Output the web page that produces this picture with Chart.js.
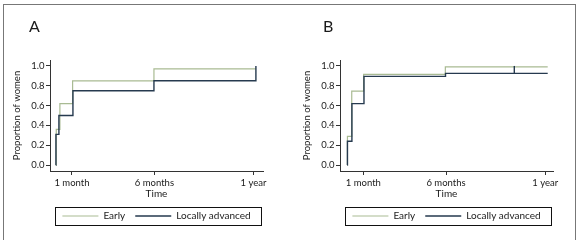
<!DOCTYPE html>
<html><head><meta charset="utf-8">
<script src="https://cdn.jsdelivr.net/npm/chart.js@4.4.1/dist/chart.umd.min.js"></script>
<style>
html,body{margin:0;padding:0;background:#fff;}
#wrap{position:relative;width:580px;height:240px;overflow:hidden;background:#fff;}
#frame{position:absolute;left:3px;top:4px;width:573px;height:260px;border:1.5px solid #777;box-sizing:border-box;}
canvas{position:absolute;top:0;}
.lbl{position:absolute;font-family:Lato,"Liberation Sans",sans-serif;font-size:16px;color:#1a1a1a;line-height:1;}
</style></head>
<body><div id="wrap"><div id="frame"></div>
<canvas id="cA" width="290" height="240" style="left:0"></canvas>
<canvas id="cB" width="290" height="240" style="left:290px"></canvas>
<div class="lbl" style="left:29px;top:18px">A</div>
<div class="lbl" style="left:323px;top:18px">B</div>
</div>
<script>
// ---- data (time in months, proportion of women) ----
const seriesNames = ['Early', 'Locally advanced'];
const xTickValues = [1, 6, 12];
const xTickLabels = ['1 month', '6 months', '1 year'];
const yTickValues = [0, 0.2, 0.4, 0.6, 0.8, 1.0];
const yTickLabels = ['0.0', '0.2', '0.4', '0.6', '0.8', '1.0'];

const aEarlyT = [0.02, 0.05, 0.27, 1.04, 5.97, 12.15];
const aEarlyY = [0, 0.36, 0.62, 0.85, 0.97, 0.97];
const aLocalT = [0.02, 0.03, 0.21, 1.06, 5.97, 12.15, 12.15];
const aLocalY = [0, 0.31, 0.50, 0.75, 0.85, 0.85, 1.0];

const bEarlyT = [0.03, 0.04, 0.30, 1.02, 5.96, 12.15];
const bEarlyY = [0, 0.29, 0.745, 0.915, 0.99, 0.99];
const bLocalT = [0.03, 0.04, 0.31, 1.04, 5.97, 12.15];
const bLocalY = [0, 0.24, 0.62, 0.895, 0.925, 0.925];
const bCensorT = [10.13, 10.13];
const bCensorY = [0.92, 1.0];

const GREEN = '#a9bb93';
const NAVY = '#263a4f';
const AXIS = '#333333';
const TEXT = '#1a1a1a';

Chart.defaults.font.family = 'Lato, "Liberation Sans", sans-serif';
Chart.defaults.color = TEXT;

const pts = (ts, ys) => ts.map((t, i) => ({x: t, y: ys[i]}));

const LEG_PAD = 10, LEG_FONT = 10;
const legendFrame = {
  id: 'legendFrame',
  afterDraw(chart) {
    const lg = chart.legend, ca = chart.chartArea, ctx = chart.ctx;
    const cy = lg.top + LEG_PAD + LEG_FONT / 2;
    ctx.save();
    ctx.strokeStyle = '#111';
    ctx.lineWidth = 1;
    ctx.strokeRect(Math.round(ca.left + 5) + 0.5, Math.round(cy - 9) + 0.5, Math.round(ca.right - ca.left - 7), 18);
    ctx.restore();
  }
};

function makeChart(id, earlyT, earlyY, localT, localY, extra, xmin, xmax) {
  const datasets = [
    {label: seriesNames[0], data: pts(earlyT, earlyY), borderColor: GREEN, backgroundColor: GREEN,
     borderWidth: 1.2, stepped: true, showLine: true, pointRadius: 0, order: 2},
    {label: seriesNames[1], data: pts(localT, localY), borderColor: NAVY, backgroundColor: NAVY,
     borderWidth: 1.4, stepped: true, showLine: true, pointRadius: 0, order: 1}
  ];
  if (extra) datasets.push({label: 'censored', data: pts(extra[0], extra[1]), borderColor: NAVY,
     borderWidth: 1.4, showLine: true, pointRadius: 0, order: 0});
  return new Chart(document.getElementById(id), {
    type: 'scatter',
    data: {datasets},
    options: {
      responsive: false, animation: false, devicePixelRatio: 1,
      layout: {padding: {left: 8, right: 27, top: 60, bottom: 9}},
      plugins: {
        legend: {position: 'bottom', fullSize: false, align: 'center',
          labels: {boxWidth: 36, boxHeight: 0, padding: LEG_PAD, font: {size: LEG_FONT}, color: TEXT,
            filter: (item) => item.datasetIndex < 2,
            sort: (a, b) => a.datasetIndex - b.datasetIndex}},
        tooltip: {enabled: false}
      },
      scales: {
        x: {type: 'linear', min: xmin, max: xmax,
          afterBuildTicks: s => { s.ticks = xTickValues.map(v => ({value: v})); },
          afterFit: s => { s.height = 30; },
          ticks: {callback: v => xTickLabels[xTickValues.indexOf(v)], padding: 2, font: {size: 9.5},
            maxRotation: 0, autoSkip: false, color: TEXT},
          grid: {drawOnChartArea: false, tickLength: 4, color: AXIS, lineWidth: 1},
          border: {display: true, color: AXIS, width: 1},
          title: {display: true, text: 'Time', font: {size: 10}, color: TEXT, padding: {top: 0, bottom: 1}}
        },
        y: {type: 'linear', min: -0.06, max: 1.06,
          afterBuildTicks: s => { s.ticks = yTickValues.map(v => ({value: v})); },
          afterFit: s => { s.width = 42; },
          ticks: {callback: (v) => yTickLabels[yTickValues.findIndex(t => Math.abs(t - v) < 1e-9)],
            padding: 1.5, font: {size: 9.5}, color: TEXT},
          grid: {drawOnChartArea: false, tickLength: 4, color: AXIS, lineWidth: 1},
          border: {display: true, color: AXIS, width: 1},
          title: {display: true, text: 'Proportion of women', font: {size: 9.5}, color: TEXT, padding: {top: 3, bottom: 0}}
        }
      }
    },
    plugins: [legendFrame]
  });
}

makeChart('cA', aEarlyT, aEarlyY, aLocalT, aLocalY, null, -0.33, 12.58);
makeChart('cB', bEarlyT, bEarlyY, bLocalT, bLocalY, [bCensorT, bCensorY], -0.41, 12.47);
</script>
</body></html>
